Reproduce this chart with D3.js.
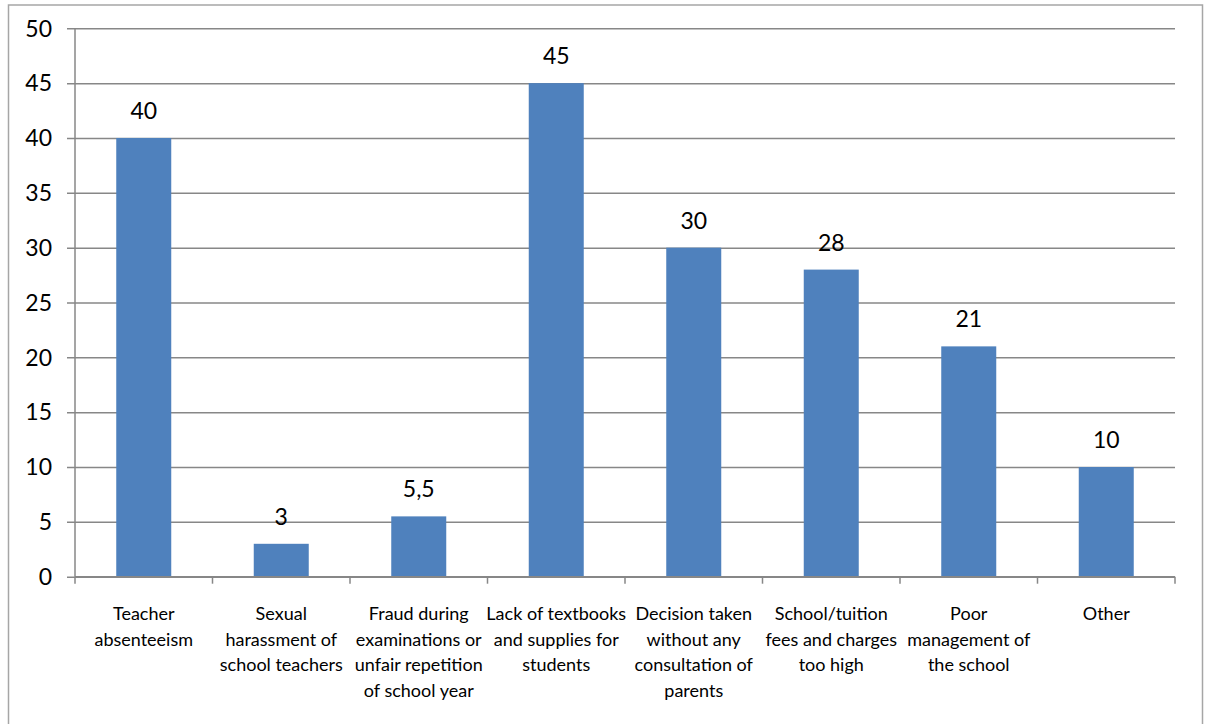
<!DOCTYPE html>
<html>
<head>
<meta charset="utf-8">
<script src="https://cdn.jsdelivr.net/npm/d3@7"></script>
<style>
  html, body { margin: 0; padding: 0; background: #fff; }
  svg { display: block; font-family: Lato, "Open Sans", sans-serif; }
</style>
</head>
<body>
<svg id="chart" width="1205" height="724"></svg>
<script>
// Reported problems in schools (percent of respondents)
const categories = [
  ["Teacher", "absenteeism"],
  ["Sexual", "harassment of", "school teachers"],
  ["Fraud during", "examinations or", "unfair repetition", "of school year"],
  ["Lack of textbooks", "and supplies for", "students"],
  ["Decision taken", "without any", "consultation of", "parents"],
  ["School/tuition", "fees and charges", "too high"],
  ["Poor", "management of", "the school"],
  ["Other"]
];
const values = [40, 3, 5.5, 45, 30, 28, 21, 10];
const yTicks = [0, 5, 10, 15, 20, 25, 30, 35, 40, 45, 50];

const svg = d3.select("#chart");
const plot = { left: 75, right: 1175, top: 28.3, bottom: 576.7 };

// Outer chart frame
svg.append("rect")
  .attr("x", 8.5).attr("y", 5)
  .attr("width", 1194).attr("height", 740)
  .attr("fill", "none")
  .attr("stroke", "#a6a6a6")
  .attr("stroke-width", 1.5);

const x = d3.scaleBand()
  .domain(d3.range(categories.length))
  .range([plot.left, plot.right])
  .paddingInner(0.6)
  .paddingOuter(0.3);

const y = d3.scaleLinear()
  .domain([0, 50])
  .range([plot.bottom, plot.top]);

const gridColor = "#878787";

// Horizontal gridlines with left tick marks
const yAxis = d3.axisLeft(y)
  .tickValues(yTicks)
  .tickSize(-(plot.right - plot.left))
  .tickFormat("");
const gy = svg.append("g").attr("transform", `translate(${plot.left},0)`).call(yAxis);
gy.select(".domain").remove();
gy.selectAll(".tick line").attr("stroke", gridColor).attr("stroke-width", 1.5)
  .attr("x1", -8);

// Y tick labels
svg.append("g").selectAll("text")
  .data(yTicks)
  .join("text")
  .attr("x", 52)
  .attr("y", d => y(d))
  .attr("dy", "0.36em")
  .attr("text-anchor", "end")
  .attr("font-size", 23)
  .attr("fill", "#000")
  .text(d => d);

// Bars
const fmt = v => String(v).replace(".", ",");
svg.append("g").selectAll("rect")
  .data(values)
  .join("rect")
  .attr("x", (d, i) => x(i))
  .attr("width", x.bandwidth())
  .attr("y", d => y(d))
  .attr("height", d => y(0) - y(d))
  .attr("fill", "#4f81bd");

// Value labels above bars
svg.append("g").selectAll("text")
  .data(values)
  .join("text")
  .attr("x", (d, i) => x(i) + x.bandwidth() / 2)
  .attr("y", d => y(d) - 19)
  .attr("text-anchor", "middle")
  .attr("font-size", 23)
  .attr("fill", "#000")
  .text(fmt);

// Y axis line
svg.append("line")
  .attr("x1", plot.left).attr("x2", plot.left)
  .attr("y1", plot.top).attr("y2", plot.bottom)
  .attr("stroke", gridColor).attr("stroke-width", 1.5);

// X axis line with boundary tick marks
const step = (plot.right - plot.left) / categories.length;
svg.append("line")
  .attr("x1", plot.left).attr("x2", plot.right)
  .attr("y1", plot.bottom).attr("y2", plot.bottom)
  .attr("stroke", gridColor).attr("stroke-width", 1.5);
svg.append("g").selectAll("line")
  .data(d3.range(categories.length + 1))
  .join("line")
  .attr("x1", i => plot.left + i * step)
  .attr("x2", i => plot.left + i * step)
  .attr("y1", plot.bottom)
  .attr("y2", plot.bottom + 7)
  .attr("stroke", gridColor).attr("stroke-width", 1.5);

// Category labels, multi-line
const lbl = svg.append("g").selectAll("text")
  .data(categories)
  .join("text")
  .attr("x", (d, i) => x(i) + x.bandwidth() / 2)
  .attr("y", 620)
  .attr("text-anchor", "middle")
  .attr("font-size", 18)
  .attr("fill", "#000");
lbl.each(function(lines, i) {
  const t = d3.select(this);
  lines.forEach((s, k) => {
    t.append("tspan")
      .attr("x", x(i) + x.bandwidth() / 2)
      .attr("y", 620 + k * 25.5)
      .text(s);
  });
});
</script>
</body>
</html>
